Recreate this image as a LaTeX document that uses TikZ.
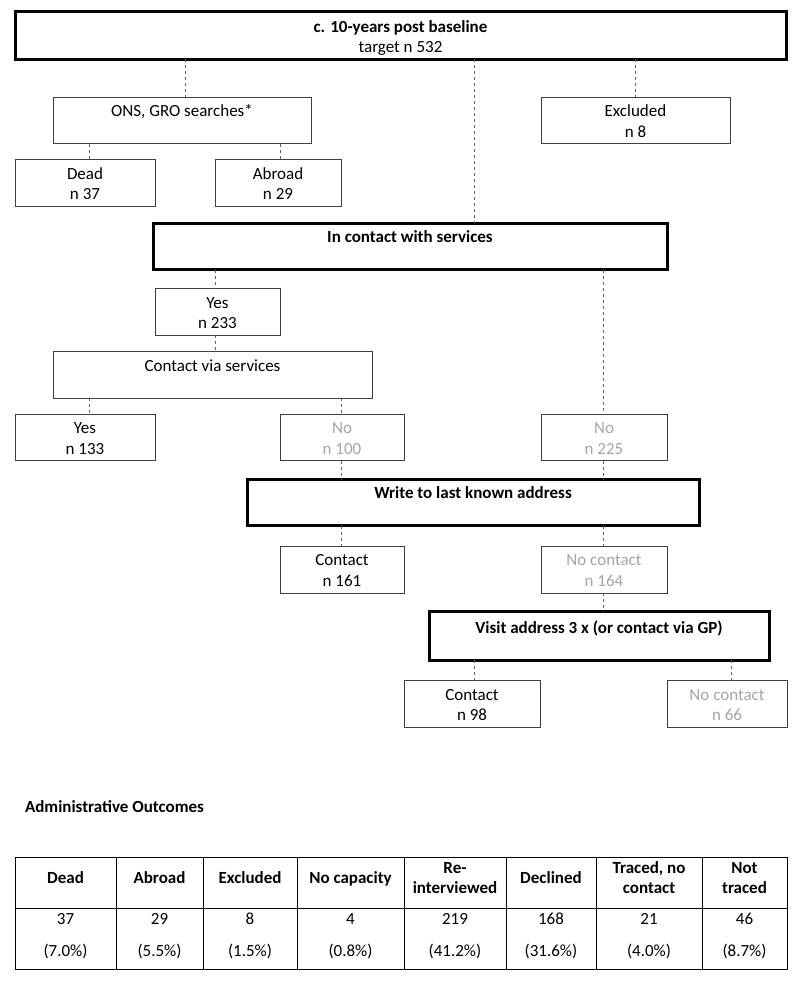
\documentclass[tikz,border=0pt]{standalone}
\usepackage{fontspec}
\setmainfont{Carlito}
\definecolor{boxline}{HTML}{404040}
\definecolor{conncol}{HTML}{606060}
\definecolor{greytext}{HTML}{A6A6A6}
\newcommand{\fstrut}{\rule{0pt}{19.4pt}}
\newcommand{\vstrut}{\rule{0pt}{22pt}}
\begin{document}
\begin{tikzpicture}[x=1pt,y=-1pt,
  every node/.style={font=\fontsize{17}{20.5}\selectfont, inner sep=0pt, outer sep=0pt, align=center},
  thinbox/.style={draw=boxline, line width=1pt, rectangle},
  thickbox/.style={draw=black, line width=3pt, rectangle},
  greybox/.style={thinbox, text=greytext},
  conn/.style={draw=conncol, line width=0.9pt, dash pattern=on 3pt off 3pt},
  hdr/.style={font=\fontsize{17}{20.5}\selectfont\bfseries},
  tline/.style={draw=black, line width=0.9pt}
]
\useasboundingbox (0,0) rectangle (800,983);
\fill[white] (0,0) rectangle (800,983);

% boxes
\node[thickbox, minimum width=771, minimum height=43] (top) at (400.5,35.5)
  {\rule{0pt}{20.4pt}\textbf{c. 10-years post baseline}\\\strut target n 532};
\node[thinbox, minimum width=258, minimum height=43] (ons) at (182,120.5)
  {\fstrut ONS, GRO searches*\\\strut};
\node[thinbox, minimum width=189, minimum height=43] (excl) at (635.5,120.5)
  {\fstrut Excluded\\\strut n 8};
\node[thinbox, minimum width=140, minimum height=42] (dead) at (85,183)
  {\fstrut Dead\\\strut n 37};
\node[thinbox, minimum width=126, minimum height=42] (abroad) at (278,183)
  {\fstrut Abroad\\\strut n 29};
\node[thickbox, minimum width=514, minimum height=43] (incontact) at (410,246.5)
  {\fstrut\textbf{In contact with services}\\\strut};
\node[thinbox, minimum width=125, minimum height=40] (yes1) at (217.5,312)
  {\fstrut Yes\\\strut n 233};
\node[thinbox, minimum width=319, minimum height=42] (cvs) at (212.5,375)
  {\fstrut Contact via services\\\strut};
\node[thinbox, minimum width=140, minimum height=41] (yes2) at (85,437.5)
  {\fstrut Yes\\\strut n 133};
\node[greybox, minimum width=124, minimum height=41] (no100) at (342,437.5)
  {\fstrut No\\\strut n 100};
\node[greybox, minimum width=126, minimum height=41] (no225) at (604,437.5)
  {\fstrut No\\\strut n 225};
\node[thickbox, minimum width=452, minimum height=43] (write) at (473,502.5)
  {\fstrut\textbf{Write to last known address}\\\strut};
\node[thinbox, minimum width=124, minimum height=47] (c161) at (342,569.5)
  {\fstrut Contact\\\strut n 161};
\node[greybox, minimum width=126, minimum height=47] (nc164) at (604,569.5)
  {\fstrut No contact\\\strut n 164};
\node[thickbox, minimum width=340, minimum height=44] (visit) at (599,636)
  {\vstrut\textbf{Visit address 3 x (or contact via GP)}\\\strut};
\node[thinbox, minimum width=136, minimum height=46] (c98) at (472,704)
  {\fstrut Contact\\\strut n 98};
\node[greybox, minimum width=120, minimum height=46] (nc66) at (727,704)
  {\fstrut No contact\\\strut n 66};

% connectors
\draw[conn] (top.south -| 185,0) -- (ons.north -| 185,0);
\draw[conn] (top.south -| 474,0) -- (incontact.north -| 474,0);
\draw[conn] (top.south -| 635,0) -- (excl.north -| 635,0);
\draw[conn] (ons.south -| 89,0) -- (dead.north -| 89,0);
\draw[conn] (ons.south -| 280,0) -- (abroad.north -| 280,0);
\draw[conn] (incontact.south -| 215,0) -- (yes1.north -| 215,0);
\draw[conn] (incontact.south -| 603,0) -- (no225.north -| 603,0);
\draw[conn] (yes1.south -| 215,0) -- (cvs.north -| 215,0);
\draw[conn] (cvs.south -| 89,0) -- (yes2.north -| 89,0);
\draw[conn] (cvs.south -| 341,0) -- (no100.north -| 341,0);
\draw[conn] (no100.south -| 341,0) -- (write.north -| 341,0);
\draw[conn] (no225.south -| 603,0) -- (write.north -| 603,0);
\draw[conn] (write.south -| 341,0) -- (c161.north -| 341,0);
\draw[conn] (write.south -| 603,0) -- (nc164.north -| 603,0);
\draw[conn] (nc164.south -| 603,0) -- (visit.north -| 603,0);
\draw[conn] (visit.south -| 474,0) -- (c98.north -| 474,0);
\draw[conn] (visit.south -| 731,0) -- (nc66.north -| 731,0);

% administrative outcomes
\node[hdr, anchor=west] (admin) at (25,807) {Administrative Outcomes};

% table grid
\draw[tline] (15,857) rectangle (787,969);
\draw[tline] (15,908) -- (787,908);
\foreach \xx in {116,203,297,404,506,596,702}
  \draw[tline] (\xx,857) -- (\xx,969);

% header cells
\node[hdr] (h1) at (65.5,879.5) {\strut Dead};
\node[hdr] (h2) at (159.5,879.5) {\strut Abroad};
\node[hdr] (h3) at (250,879.5) {\strut Excluded};
\node[hdr] (h4) at (350.5,879.5) {\strut No capacity};
\node[hdr] (h5) at (455,879.5) {\strut Re-\\\strut interviewed};
\node[hdr] (h6) at (551,879.5) {\strut Declined};
\node[hdr] (h7) at (649,879.5) {\strut Traced, no\\\strut contact};
\node[hdr] (h8) at (744.5,879.5) {\strut Not\\\strut traced};

% value cells
\node (v1) at (65.5,936.5) {\strut 37\\[11pt]\strut (7.0\%)};
\node (v2) at (159.5,936.5) {\strut 29\\[11pt]\strut (5.5\%)};
\node (v3) at (250,936.5) {\strut 8\\[11pt]\strut (1.5\%)};
\node (v4) at (350.5,936.5) {\strut 4\\[11pt]\strut (0.8\%)};
\node (v5) at (455,936.5) {\strut 219\\[11pt]\strut (41.2\%)};
\node (v6) at (551,936.5) {\strut 168\\[11pt]\strut (31.6\%)};
\node (v7) at (649,936.5) {\strut 21\\[11pt]\strut (4.0\%)};
\node (v8) at (744.5,936.5) {\strut 46\\[11pt]\strut (8.7\%)};
\end{tikzpicture}
\end{document}
